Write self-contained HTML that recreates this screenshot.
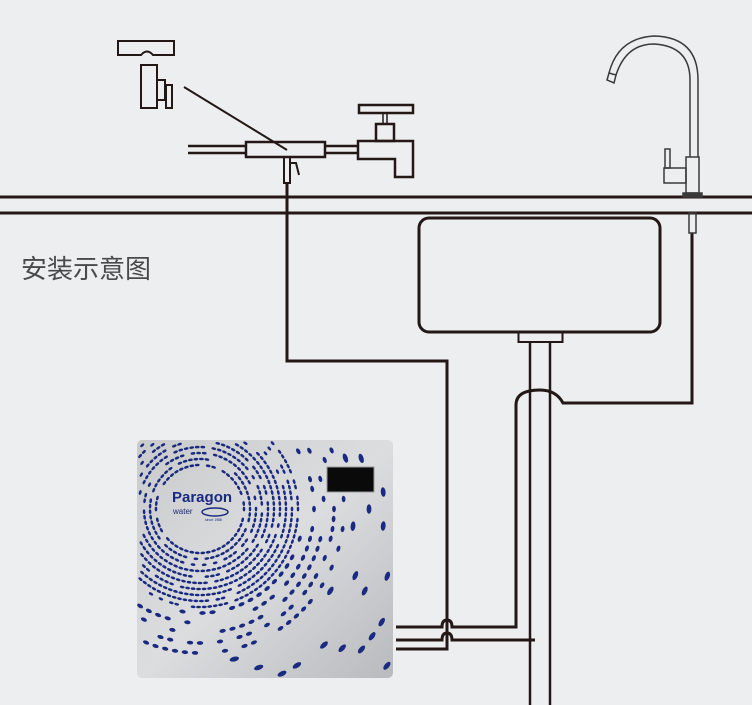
<!DOCTYPE html>
<html><head><meta charset="utf-8"><style>
html,body{margin:0;padding:0;background:#eceef0;width:752px;height:705px;overflow:hidden;}
body{position:relative;}
svg{display:block;}
.t{position:absolute;left:21px;top:254px;font:26px "Liberation Sans","Noto Sans CJK SC",sans-serif;color:#4a4a4a;line-height:30px;}
</style></head><body>
<svg width="752" height="705" viewBox="0 0 752 705" style="position:absolute;left:0;top:0">
<defs>
<linearGradient id="g" x1="0" y1="0" x2="1" y2="1">
<stop offset="0" stop-color="#c9cacc"/><stop offset="0.5" stop-color="#dcdddf"/><stop offset="1" stop-color="#b9babd"/>
</linearGradient>
<clipPath id="cp"><rect x="137" y="440" width="256" height="238" rx="5"/></clipPath>
</defs>
<g stroke="#231815" fill="none" stroke-width="3">
<line x1="0" y1="197" x2="752" y2="197"/>
<line x1="0" y1="213" x2="752" y2="213"/>
<rect x="419" y="218" width="241" height="114" rx="10"/>
<rect x="518.5" y="332" width="44" height="10" stroke-width="2"/>
<line x1="530" y1="342" x2="530" y2="705" stroke-width="2.5"/>
<line x1="550" y1="342" x2="550" y2="705" stroke-width="2.5"/>
<path d="M692 233 V403 H563 Q556 390 540 390 Q516 390 516 405 V627 H452 Q452 620 447 620 Q442 620 442 627 H396"/>
<path d="M535 640 H452 Q452 633 447 633 Q442 633 442 640 H396"/>
<path d="M396 649 H447 V361 H287 V183"/>
</g>
<g stroke="#231815" fill="none" stroke-width="2.5">
<line x1="188" y1="146" x2="246" y2="146"/><line x1="188" y1="153" x2="246" y2="153"/>
<rect x="246" y="142" width="79" height="15"/>
<line x1="325" y1="146" x2="358" y2="146"/><line x1="325" y1="153" x2="358" y2="153"/>
<path d="M358 141 H413 V177 H395 V159 H358 Z"/>
<rect x="376" y="124" width="18" height="17"/>
<line x1="383" y1="113" x2="383" y2="124" stroke-width="1.5"/><line x1="387" y1="113" x2="387" y2="124" stroke-width="1.5"/>
<rect x="359" y="105" width="54" height="8"/>
<path d="M284 157 V183 H290 V157" stroke-width="2"/>
<path d="M290 163 H296 L299 175" stroke-width="2"/>
<line x1="184" y1="87" x2="287" y2="150" stroke-width="2"/>
<path d="M118 41 H174 V55 H153 Q147 48 141 55 H118 Z" stroke-width="2"/>
<rect x="141" y="65" width="16" height="43" stroke-width="2"/>
<rect x="157" y="80" width="8" height="20" stroke-width="2"/>
<rect x="166" y="85" width="6" height="23" stroke-width="2"/>
</g>
<g stroke="#3a3a3a" fill="none" stroke-width="1.5">
<path d="M690 157 V80 Q690 46 654 44 Q626 44 616 75"/>
<path d="M698 157 V80 Q698 37 654 36 Q618 38 609 73"/>
<path d="M609 73 L616 75 L614 83 L607 80 Z"/>
<rect x="686" y="157" width="13" height="36"/>
<rect x="664" y="168" width="22" height="15"/>
<rect x="665" y="149" width="5" height="19"/>
<rect x="683" y="193" width="19" height="4" fill="#3a3a3a"/>
<rect x="689" y="213" width="7" height="20"/>
</g>
<rect x="137" y="440" width="256" height="238" rx="5" fill="url(#g)"/>
<g id="dots" clip-path="url(#cp)" fill="#1a2a80"></g>
<rect x="327" y="467" width="47" height="25" fill="#0a0a0a" stroke="#999" stroke-width="1"/>
<text x="172" y="502" font-family="Liberation Sans,sans-serif" font-weight="bold" font-size="15" fill="#1a2a80">Paragon</text>
<text x="173" y="514" font-family="Liberation Sans,sans-serif" font-size="8" fill="#1a2a80">water</text>
<ellipse cx="215" cy="512" rx="13" ry="4" fill="none" stroke="#1a2a80" stroke-width="1.5"/>
<text x="205" y="521" font-family="Liberation Sans,sans-serif" font-size="3.5" fill="#1a2a80">since 1988</text>
</svg>
<div class="t">安装示意图</div>
<script>
(function(){
var g=document.getElementById('dots'),s='',seed=7;
function r(){seed=(seed*16807)%2147483647;return seed/2147483647;}
var cx=200,cy=509;
for(var R=44;R<260;R+=(R<100?6:R<150?10:15)){
 var n=Math.floor(2*Math.PI*R/(R<100?5.5:R<150?10:17));
 for(var i=0;i<n;i++){
  var a=i/n*2*Math.PI;
  var x=cx+R*Math.cos(a),y=cy+R*Math.sin(a);
  var p=R<100?0.85:R<150?0.6:0.35;
  if(Math.sin(a)<-0.3&&R>80)p*=0.5;
  if(r()>p)continue;
  if(x<140||x>390||y<443||y>675)continue;
  var rx=R<100?2.4:R<150?3.2:4.8,ry=R<100?1.3:R<150?1.9:2.4;
  var deg=a*180/Math.PI+90;
  s+='<ellipse cx="'+x.toFixed(1)+'" cy="'+y.toFixed(1)+'" rx="'+rx+'" ry="'+ry+'" transform="rotate('+deg.toFixed(0)+' '+x.toFixed(1)+' '+y.toFixed(1)+')"/>';
 }
}
g.innerHTML=s;
})();
</script>
</body></html>
